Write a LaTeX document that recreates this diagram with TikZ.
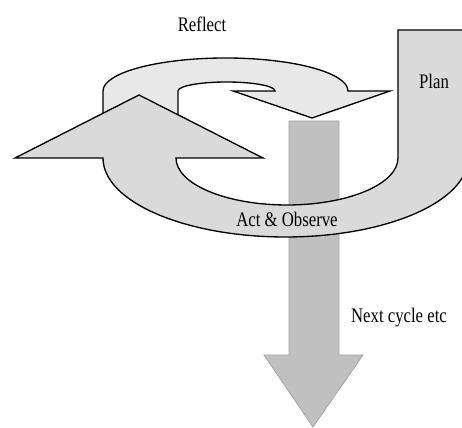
\documentclass[tikz,border=0pt]{standalone}
\usepackage{fontspec}
\setmainfont{Liberation Serif}
\usepackage{xcolor}
\usepackage{tikz}
\usetikzlibrary{positioning}
\definecolor{reflectColor}{RGB}{232,232,232}
\definecolor{planColor}{RGB}{218,218,218}
\definecolor{nextColor}{RGB}{192,192,192}
\definecolor{nextEdge}{RGB}{165,165,165}
\tikzstyle{bandarrow} = [draw=black, line width=1pt, line join=miter]
\tikzstyle{nextarrow} = [draw=nextEdge, fill=nextColor, line width=0.6pt]
\tikzstyle{cyclelabel} = [inner sep=0pt, anchor=base, font=\fontsize{15.5}{18}\selectfont]
\newcommand{\narrowtext}[1]{\scalebox{0.81}[1]{#1}}

\begin{document}
\begin{tikzpicture}[x=0.75pt, y=0.75pt]
        \useasboundingbox (0,0) rectangle (462,428);
        \clip (0,0) rectangle (462,428);

        % reflect
        \draw [bandarrow, fill=reflectColor] (103,298) -- (103,337)
            arc[start angle=180, end angle=0, x radius=122.5, y radius=33]
            -- (390,337) -- (312,310) -- (233,337) -- (275,337)
            arc[start angle=0, end angle=180, x radius=48.5, y radius=9]
            -- (178,298) -- cycle;

        % next cycle
        \draw [nextarrow] (289,307) -- (339,307) -- (339,73) -- (363,73)
            -- (313,1) -- (264,73) -- (289,73) -- cycle;

        % plan, act & observe
        \draw [bandarrow, fill=planColor] (398,398) -- (468,398) -- (468,270)
            arc[start angle=0, end angle=-180, x radius=182.5, y radius=79]
            -- (15,270) -- (139,333) -- (263,270) -- (176,270)
            arc[start angle=180, end angle=360, x radius=111, y radius=47]
            -- cycle;

        \node (reflect) [cyclelabel] at (202,396) {\narrowtext{Reflect}};
        \node (plan) [cyclelabel] at (434,339) {\narrowtext{Plan}};
        \node (act) [cyclelabel] at (287,201) {\narrowtext{Act \& Observe}};
        \node (next) [cyclelabel] at (399,105) {\narrowtext{Next cycle etc}};
    \end{tikzpicture}
\end{document}
